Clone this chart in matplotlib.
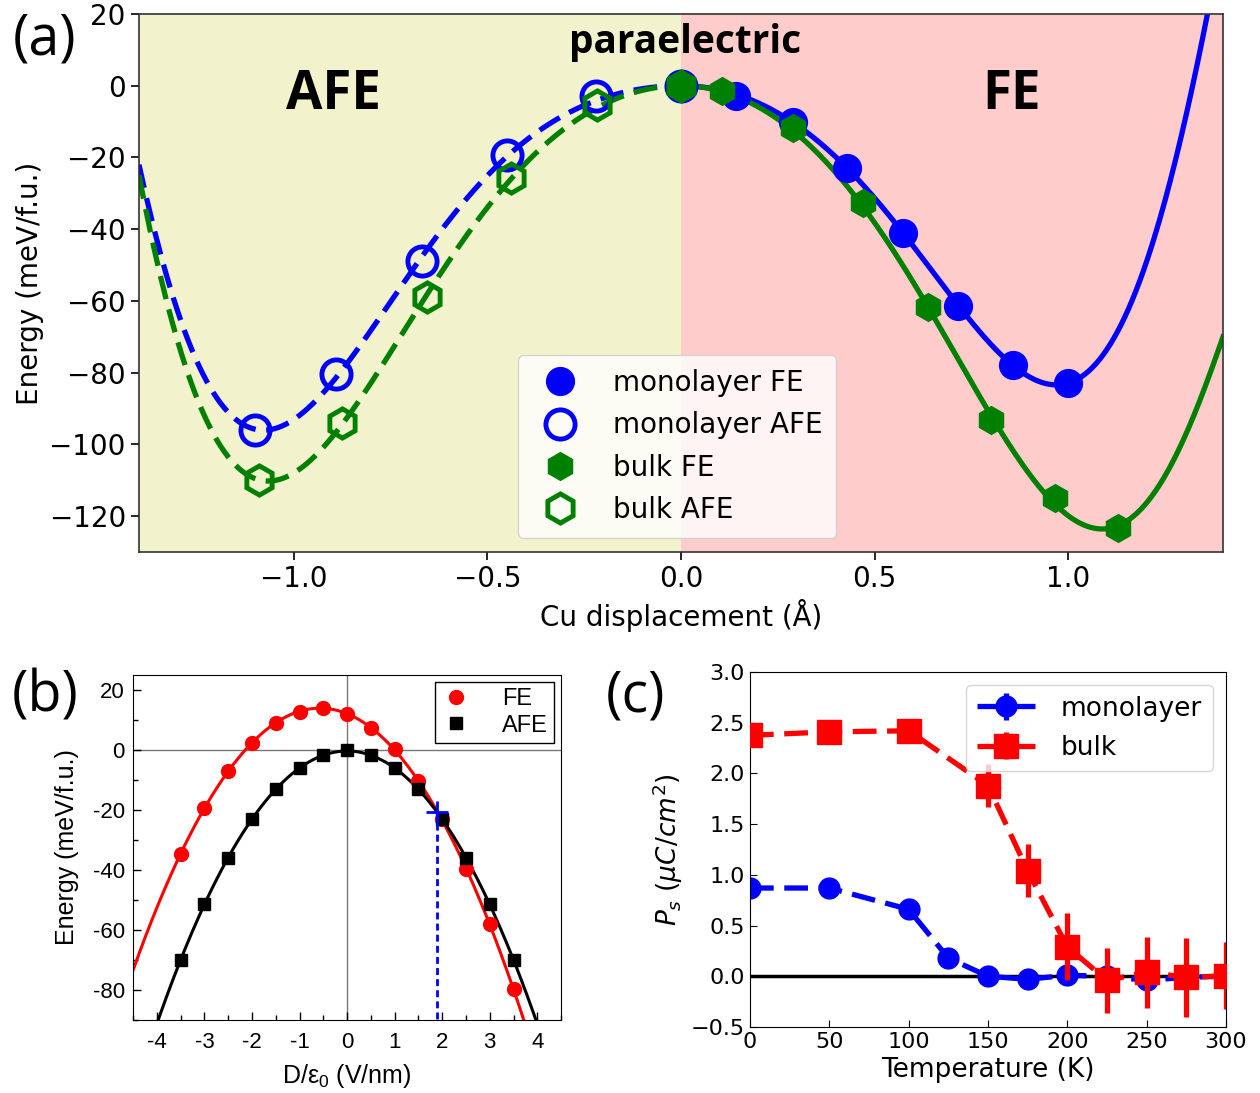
import numpy as np
import matplotlib
matplotlib.use('Agg')
import matplotlib.pyplot as plt
from matplotlib.ticker import MultipleLocator

# ---------------- Panel (a) data ----------------
mono_afe_x = [-1.10, -0.89, -0.67, -0.45, -0.22, 0.0]
mono_afe_y = [-96.0, -80.5, -49.0, -19.2, -3.0, 0.0]
bulk_afe_x = [-1.09, -0.875, -0.657, -0.44, -0.216, 0.0]
bulk_afe_y = [-110.0, -94.0, -59.0, -25.8, -5.5, 0.0]
mono_fe_x = [0.0, 0.143, 0.289, 0.43, 0.574, 0.716, 0.858, 1.0]
mono_fe_y = [0.0, -3.0, -10.0, -23.0, -41.0, -61.5, -77.8, -83.0]
bulk_fe_x = [0.0, 0.107, 0.289, 0.469, 0.637, 0.80, 0.966, 1.129]
bulk_fe_y = [0.0, -1.5, -11.8, -32.8, -61.8, -93.3, -115.0, -123.3]
# where each fitted curve meets the plot frame
mono_afe_edge = (-1.40, -22.0)
bulk_afe_edge = (-1.40, -25.0)
mono_fe_edge = (1.36, 20.0)
bulk_fe_edge = (1.40, -70.0)

# ---------------- Panel (b) data ----------------
field = [-3.5, -3.0, -2.5, -2.0, -1.5, -1.0, -0.5, 0.0, 0.5, 1.0, 1.5, 2.0, 2.5, 3.0, 3.5]
fe_energy = [-34.6, -19.4, -7.0, 2.4, 9.0, 12.8, 13.9, 12.1, 7.4, 0.2, -10.3, -23.1, -39.8, -58.1, -79.8]
afe_energy = [-70.0, -51.4, -35.9, -23.1, -13.1, -6.1, -1.8, 0.0, -1.8, -6.1, -13.1, -23.1, -35.9, -51.4, -70.0]
cross_x = 1.9
cross_y = -20.5

# ---------------- Panel (c) data ----------------
temps = [0, 50, 100, 125, 150, 175, 200, 225, 250, 275, 300]
mono_ps = [0.87, 0.87, 0.66, 0.18, 0.0, -0.03, 0.01, 0.0, -0.04, -0.01, 0.0]
mono_err = [0.03, 0.03, 0.04, 0.04, 0.05, 0.04, 0.05, 0.04, 0.05, 0.04, 0.04]
bulk_temps = [0, 50, 100, 150, 175, 200, 225, 250, 275, 300]
bulk_ps = [2.375, 2.41, 2.42, 1.88, 1.04, 0.29, -0.04, 0.04, -0.01, 0.005]
bulk_err = [0.04, 0.04, 0.05, 0.21, 0.26, 0.33, 0.32, 0.35, 0.39, 0.33]

fig = plt.figure(figsize=(12.6, 10.93), dpi=100)

# ================= Panel (a) =================
axa = fig.add_axes([0.1103, 0.4950, 0.8603, 0.4922])
axa.axvspan(-1.4, 0.0, color='y', alpha=0.2, lw=0)
axa.axvspan(0.0, 1.4, color='r', alpha=0.2, lw=0)


def even_fit(x, y, edge, xs):
    x = np.append(np.asarray(x, float), edge[0])
    y = np.append(np.asarray(y, float), edge[1])
    A = np.vstack([x**2, x**4, x**6, x**8]).T
    c, *_ = np.linalg.lstsq(A, y, rcond=None)
    return c[0]*xs**2 + c[1]*xs**4 + c[2]*xs**6 + c[3]*xs**8


xl = np.linspace(-1.4, 0.0, 300)
xr = np.linspace(0.0, 1.4, 300)
lw_a = 3.8
axa.plot(xl, even_fit(mono_afe_x, mono_afe_y, mono_afe_edge, xl), color='b', lw=lw_a, ls='--', dashes=(4.5, 2.0), zorder=2)
axa.plot(xl, even_fit(bulk_afe_x, bulk_afe_y, bulk_afe_edge, xl), color='g', lw=lw_a, ls='--', dashes=(4.5, 2.0), zorder=2)
axa.plot(xr, even_fit(mono_fe_x, mono_fe_y, mono_fe_edge, xr), color='b', lw=lw_a, zorder=2)
axa.plot(xr, even_fit(bulk_fe_x, bulk_fe_y, bulk_fe_edge, xr), color='g', lw=lw_a, zorder=2.1)

h1, = axa.plot(mono_fe_x, mono_fe_y, 'o', color='b', ms=20, ls='none', zorder=3, label='monolayer FE')
h2, = axa.plot(mono_afe_x, mono_afe_y, 'o', mfc='none', mec='b', mew=3.5, ms=21, ls='none', zorder=3, label='monolayer AFE')
h3, = axa.plot(bulk_fe_x, bulk_fe_y, 'h', color='g', ms=20, ls='none', zorder=3.1, label='bulk FE')
h4, = axa.plot(bulk_afe_x, bulk_afe_y, 'h', mfc='none', mec='g', mew=3.5, ms=21, ls='none', zorder=3.1, label='bulk AFE')

axa.set_xlim(-1.4, 1.4)
axa.set_ylim(-130, 20)
axa.set_xticks([-1.0, -0.5, 0.0, 0.5, 1.0])
axa.set_yticks([20, 0, -20, -40, -60, -80, -100, -120])
axa.tick_params(labelsize=20, length=6, width=1.2)
axa.set_xlabel('Cu displacement (Å)', fontsize=20)
axa.set_ylabel('Energy (meV/f.u.)', fontsize=20)
for s in axa.spines.values():
    s.set_linewidth(1.2)
    s.set_color('#333333')

axa.text(0.01, 12.0, 'paraelectric', fontsize=28, fontweight='bold', family='Open Sans', ha='center', va='center')
axa.text(-0.897, -2.5, 'AFE', fontsize=38, fontweight='bold', family='Open Sans', ha='center', va='center')
axa.text(0.853, -2.5, 'FE', fontsize=38, fontweight='bold', family='Open Sans', ha='center', va='center')

axa.legend(handles=[h1, h2, h3, h4], loc='lower left', bbox_to_anchor=(0.337, 0.0),
           fontsize=20, labelspacing=0.52, handletextpad=0.9, borderpad=0.5)

# ================= Panel (b) =================
axb = fig.add_axes([0.1056, 0.0668, 0.3397, 0.3156])
axb.axhline(0, color='#777777', lw=1.0, zorder=1)
axb.axvline(0, color='#777777', lw=1.0, zorder=1)
xb = np.linspace(-4.5, 4.5, 400)
cf = np.polyfit(field, fe_energy, 2)
ca = np.polyfit(field, afe_energy, 2)
axb.plot(xb, np.polyval(cf, xb), color='r', lw=2.2, zorder=2)
axb.plot(xb, np.polyval(ca, xb), color='k', lw=2.2, zorder=2)
hb1, = axb.plot(field, fe_energy, 'o', color='r', ms=10, ls='none', zorder=3, label='FE')
hb2, = axb.plot(field, afe_energy, 's', color='k', ms=9, ls='none', zorder=3, label='AFE')
axb.plot([cross_x, cross_x], [cross_y, -90], color='b', ls='--', lw=2.0, dashes=(2.5, 1.5), zorder=4)
axb.plot([cross_x], [cross_y], '+', color='b', ms=16, mew=2, zorder=5)
axb.set_xlim(-4.5, 4.5)
axb.set_ylim(-90, 25)
axb.set_xticks(range(-4, 5))
axb.set_xticklabels([str(v) for v in range(-4, 5)])
axb.set_yticks([20, 0, -20, -40, -60, -80])
axb.set_yticklabels(['20', '0', '-20', '-40', '-60', '-80'])
axb.xaxis.set_minor_locator(MultipleLocator(0.5))
axb.yaxis.set_minor_locator(MultipleLocator(10))
axb.tick_params(which='both', direction='in', labelsize=16)
axb.tick_params(which='major', length=6, width=1)
axb.tick_params(which='minor', length=3.5, width=1)
axb.tick_params(axis='x', pad=9)
axb.tick_params(axis='y', pad=6)
for lab in axb.get_xticklabels() + axb.get_yticklabels():
    lab.set_family('Liberation Sans')
axb.set_xlabel(r'D/$\mathregular{\varepsilon_0}$ (V/nm)', fontsize=18, family='Liberation Sans', labelpad=6)
axb.set_ylabel('Energy (meV/f.u.)', fontsize=18, family='Liberation Sans', labelpad=10)
legb = axb.legend(handles=[hb1, hb2], loc='upper right', fancybox=False, edgecolor='k',
                  prop={'family': 'Liberation Sans', 'size': 17}, borderaxespad=0.3,
                  labelspacing=0.2, handlelength=1.3, handletextpad=1.3, borderpad=0.25, framealpha=1)
legb.get_frame().set_linewidth(1.0)

# ================= Panel (c) =================
axc = fig.add_axes([0.5952, 0.0604, 0.3778, 0.3248])
axc.axhline(0, color='k', lw=2.5, zorder=1)
hc1 = axc.errorbar(temps, mono_ps, yerr=mono_err, fmt='o', ls='--', color='b', ms=15, lw=3.8,
                   elinewidth=3.8, capsize=0, dashes=(4.5, 2.0), zorder=2, label='monolayer')
hc2 = axc.errorbar(bulk_temps, bulk_ps, yerr=bulk_err, fmt='s', ls='--', color='r', ms=17, lw=3.8,
                   elinewidth=3.8, capsize=0, dashes=(4.5, 2.0), zorder=3, label='bulk')
axc.set_xlim(0, 300)
axc.set_ylim(-0.5, 3.0)
axc.set_xticks([0, 50, 100, 150, 200, 250, 300])
axc.set_yticks([-0.5, 0.0, 0.5, 1.0, 1.5, 2.0, 2.5, 3.0])
axc.tick_params(direction='in', labelsize=16, length=5)
axc.set_xlabel('Temperature (K)', fontsize=19)
axc.set_ylabel(r'$P_s$ ($\mu C/cm^2$)', fontsize=19)
axc.legend(loc='upper right', fontsize=19, handlelength=2.2, handletextpad=1.0)

# panel labels
fig.text(0.0357, 0.9634, '(a)', fontsize=40, family='Open Sans', ha='center', va='center')
fig.text(0.0357, 0.3623, '(b)', fontsize=40, family='Open Sans', ha='center', va='center')
fig.text(0.504, 0.3623, '(c)', fontsize=40, family='Open Sans', ha='center', va='center')

fig.savefig('out.png', dpi=100)
